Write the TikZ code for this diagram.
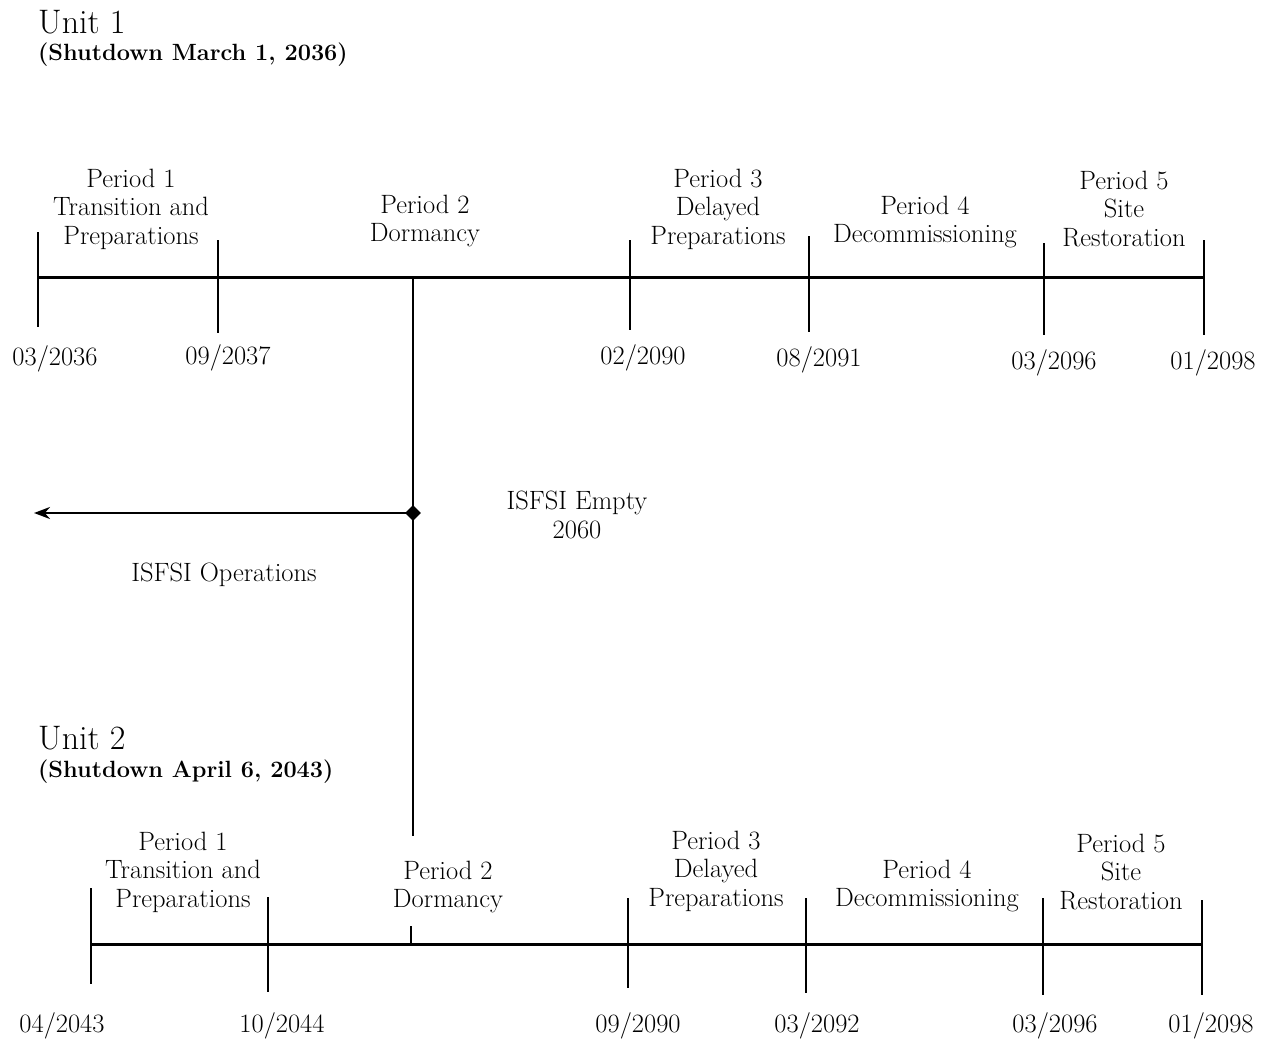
\documentclass[tikz,border=0pt]{standalone}
\usetikzlibrary{shapes.geometric,arrows.meta}
\begin{document}
\begin{tikzpicture}[x=1pt,y=-1pt,
  axis/.style={line width=3pt},
  tk/.style={line width=2.4pt},
  lbl/.style={align=center,font=\fontsize{26.5}{28.5}\selectfont,inner sep=0pt},
  dt/.style={font=\fontsize{26.5}{28}\selectfont,inner sep=0pt},
  ttl/.style={anchor=west,inner sep=0pt,font=\fontsize{34}{38}\selectfont},
  subttl/.style={anchor=west,inner sep=0pt,font=\bfseries\fontsize{23.5}{26}\selectfont}]
\useasboundingbox (0,0) rectangle (1267,1041);

% ---------- Unit 1 ----------
\node[ttl] (u1title) at (38,22) {Unit 1};
\node[subttl] (u1sub) at (38,55) {(Shutdown March 1, 2036)};

\coordinate (u1s) at (38,277);
\coordinate (u1e) at (1204,277);
\draw[axis] (u1s) -- (u1e);
\foreach \n/\x/\t/\b in {a/38/232/327, b/218/240/333, c/630/240/330, d/809/236/332, e/1044/243/335, f/1204/240/335}{
  \coordinate (u1\n t) at (\x,\t);
  \coordinate (u1\n b) at (\x,\b);
  \draw[tk] (u1\n t) -- (u1\n b);
}

\node[lbl] (u1p1) at (131,209) {Period 1\\Transition and\\Preparations};
\node[lbl] (u1p2) at (425,221) {Period 2\\Dormancy};
\node[lbl] (u1p3) at (718,209) {Period 3\\Delayed\\Preparations};
\node[lbl] (u1p4) at (925,222) {Period 4\\Decommissioning};
\node[lbl] (u1p5) at (1124,209) {Period 5\\Site\\Restoration};

\node[dt] (u1d1) at (55,359) {03/2036};
\node[dt] (u1d2) at (228,358) {09/2037};
\node[dt] (u1d3) at (643,358) {02/2090};
\node[dt] (u1d4) at (819,360) {08/2091};
\node[dt] (u1d5) at (1054,363) {03/2096};
\node[dt] (u1d6) at (1213,363) {01/2098};

% ---------- ISFSI ----------
\coordinate (vt) at (413,277);
\coordinate (vb) at (413,836);
\draw[line width=2pt] (vt) -- (vb);
\node[diamond,fill=black,minimum size=16pt,inner sep=0pt] (dm) at (413,513) {};
\coordinate (al) at (34,513);
\draw[line width=2.5pt,-{Stealth[length=16pt,width=12pt]}] (dm.center) -- (al);
\node[lbl] (empty) at (577,515) {ISFSI Empty\\2060};
\node[lbl] (ops) at (224,575) {ISFSI Operations};

% ---------- Unit 2 ----------
\node[ttl] (u2title) at (38,738) {Unit 2};
\node[subttl] (u2sub) at (38,772) {(Shutdown April 6, 2043)};

\coordinate (u2s) at (91,944);
\coordinate (u2e) at (1202,944);
\draw[axis] (u2s) -- (u2e);
\foreach \n/\x/\t/\b in {a/91/888/984, b/268/897/992, c/628/898/988, d/806/898/993, e/1043/898/995, f/1202/900/995}{
  \coordinate (u2\n t) at (\x,\t);
  \coordinate (u2\n b) at (\x,\b);
  \draw[tk] (u2\n t) -- (u2\n b);
}
\coordinate (u2mt) at (411,926);
\coordinate (u2mb) at (411,944);
\draw[line width=2pt] (u2mt) -- (u2mb);

\node[lbl] (u2p1) at (183,872) {Period 1\\Transition and\\Preparations};
\node[lbl] (u2p2) at (448,887) {Period 2\\Dormancy};
\node[lbl] (u2p3) at (716,871) {Period 3\\Delayed\\Preparations};
\node[lbl] (u2p4) at (927,886) {Period 4\\Decommissioning};
\node[lbl] (u2p5) at (1121,872) {Period 5\\Site\\Restoration};

\node[dt] (u2d1) at (62,1026) {04/2043};
\node[dt] (u2d2) at (282,1026) {10/2044};
\node[dt] (u2d3) at (638,1026) {09/2090};
\node[dt] (u2d4) at (817,1026) {03/2092};
\node[dt] (u2d5) at (1055,1026) {03/2096};
\node[dt] (u2d6) at (1211,1026) {01/2098};
\end{tikzpicture}
\end{document}
